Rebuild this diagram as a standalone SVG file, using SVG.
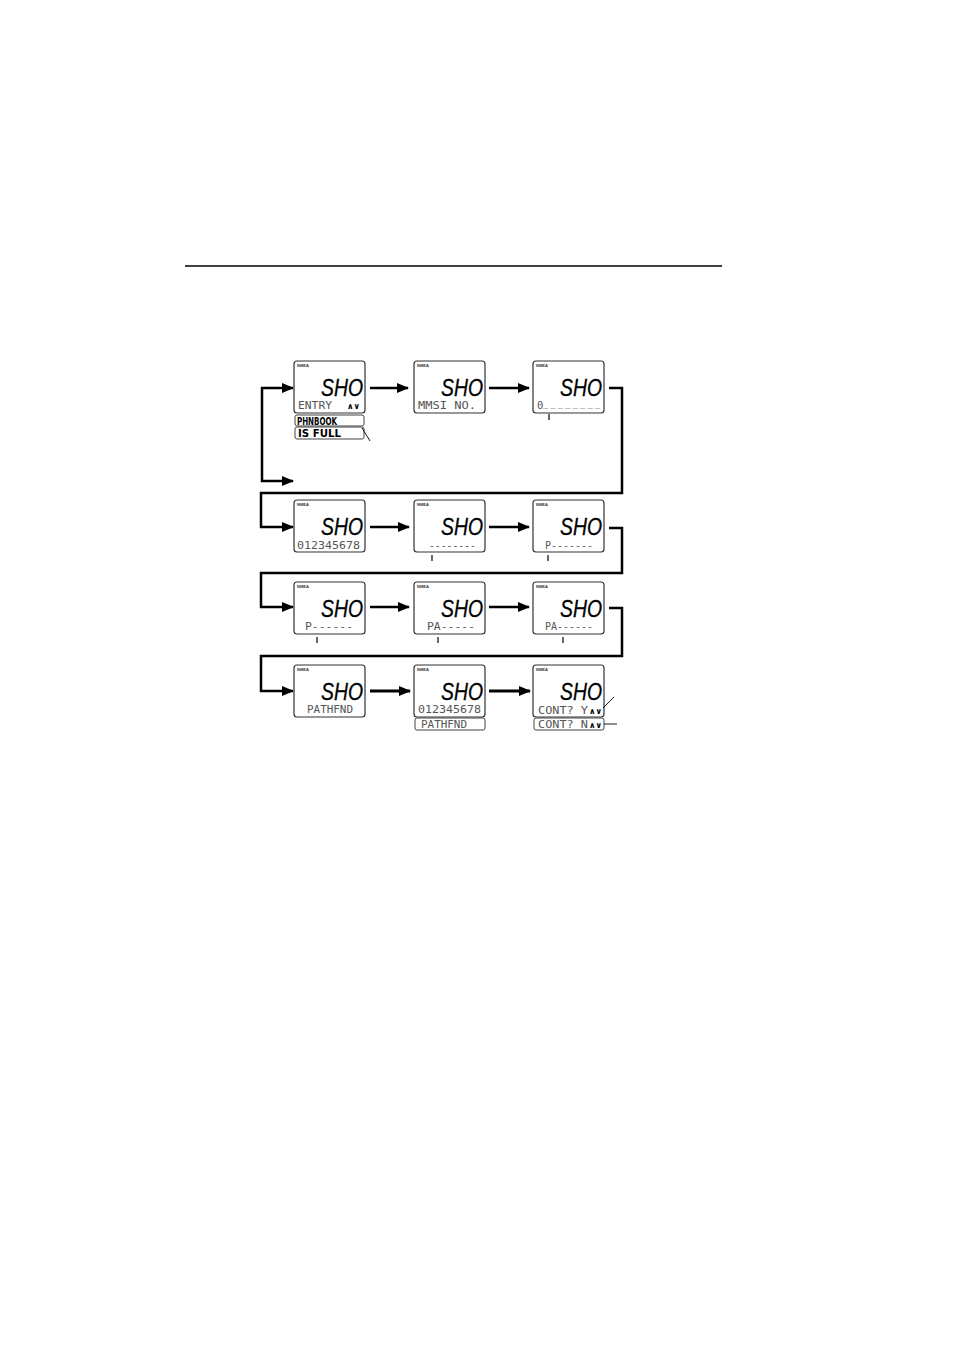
<svg xmlns="http://www.w3.org/2000/svg" width="954" height="1351" viewBox="0 0 954 1351">
<defs>
<style>
.lcd{fill:#fff;stroke:#333;stroke-width:1.2}
.strip{fill:#fff;stroke:#444;stroke-width:1}
.nmea{font-family:"Liberation Sans",sans-serif;font-size:4px;font-weight:bold;fill:#333}
.seg{font-family:"Liberation Sans",sans-serif;font-size:24px;font-style:italic;fill:#000;text-anchor:end;stroke:#000;stroke-width:0.3}
.t{font-family:"DejaVu Sans Mono",monospace;font-size:10.5px;fill:#555}
.b{font-family:"DejaVu Sans",sans-serif;font-size:11px;font-weight:bold;fill:#000}
.ic{font-family:"DejaVu Sans",sans-serif;font-size:8px;font-weight:bold;fill:#000}
.c{fill:none;stroke:#000;stroke-width:2.5}
.c3{fill:none;stroke:#000;stroke-width:3}
.tk{stroke:#000;stroke-width:1.2}
.thin{stroke:#000;stroke-width:0.9;fill:none}
</style>
<marker id="ah" markerUnits="userSpaceOnUse" markerWidth="12" markerHeight="10" refX="11" refY="5" orient="auto"><path d="M0,0 L12,5 L0,10 z" fill="#000"/></marker>
</defs>
<rect width="954" height="1351" fill="#fff"/>
<line x1="185" y1="266" x2="722" y2="266" stroke="#000" stroke-width="1.5"/>

<g id="connectors">
<line class="c" x1="370" y1="388" x2="408" y2="388" marker-end="url(#ah)"/>
<line class="c" x1="489" y1="388" x2="529" y2="388" marker-end="url(#ah)"/>
<path class="c" d="M262,434 V388 H293" marker-end="url(#ah)"/>
<path class="c" d="M262,434 V481 H293" marker-end="url(#ah)"/>
<polyline class="c" points="609,388 622,388 622,493 261,493 261,527 293,527" marker-end="url(#ah)"/>
<line class="c" x1="370" y1="527" x2="409" y2="527" marker-end="url(#ah)"/>
<line class="c" x1="489" y1="527" x2="529" y2="527" marker-end="url(#ah)"/>
<polyline class="c" points="609,528 622,528 622,573 261,573 261,607 293,607" marker-end="url(#ah)"/>
<line class="c" x1="370" y1="607" x2="409" y2="607" marker-end="url(#ah)"/>
<line class="c" x1="489" y1="607" x2="529" y2="607" marker-end="url(#ah)"/>
<polyline class="c" points="609,608 622,608 622,656 261,656 261,691 293,691" marker-end="url(#ah)"/>
<line class="c3" x1="370" y1="691" x2="410" y2="691" marker-end="url(#ah)"/>
<line class="c3" x1="489" y1="691" x2="530" y2="691" marker-end="url(#ah)"/>
</g>

<g id="n1">
<rect class="lcd" x="294" y="361" width="71" height="52" rx="3"/>
<text class="nmea" x="297" y="367">NMEA</text>
<text class="seg" x="363" y="396" textLength="42" lengthAdjust="spacingAndGlyphs">SHO</text>
<text class="t" x="298" y="409" textLength="34" lengthAdjust="spacingAndGlyphs">ENTRY</text>
<text class="ic" x="347" y="409">∧∨</text>
<rect class="strip" x="295" y="415" width="69" height="11" rx="2"/>
<text class="b" x="297" y="424.5" textLength="40" lengthAdjust="spacingAndGlyphs">PHNBOOK</text>
<rect class="strip" x="295" y="427" width="69" height="12" rx="2"/>
<text class="b" x="298" y="437" textLength="43" lengthAdjust="spacingAndGlyphs">IS  FULL</text>
<line class="thin" x1="362" y1="428" x2="370" y2="441"/>
</g>

<g id="n2">
<rect class="lcd" x="414" y="361" width="71" height="52" rx="3"/>
<text class="nmea" x="417" y="367">NMEA</text>
<text class="seg" x="483" y="396" textLength="42" lengthAdjust="spacingAndGlyphs">SHO</text>
<text class="t" x="418" y="409" textLength="58" lengthAdjust="spacingAndGlyphs">MMSI NO.</text>
</g>

<g id="n3">
<rect class="lcd" x="533" y="361" width="71" height="52" rx="3"/>
<text class="nmea" x="536" y="367">NMEA</text>
<text class="seg" x="602" y="396" textLength="42" lengthAdjust="spacingAndGlyphs">SHO</text>
<text class="t" x="537" y="409">0<tspan x="543" y="407" font-size="8.5" textLength="57" lengthAdjust="spacing">________</tspan></text>
<line class="tk" x1="549" y1="414" x2="549" y2="420"/>
</g>

<g id="n4">
<rect class="lcd" x="294" y="500" width="71" height="52" rx="3"/>
<text class="nmea" x="297" y="506">NMEA</text>
<text class="seg" x="363" y="535" textLength="42" lengthAdjust="spacingAndGlyphs">SHO</text>
<text class="t" x="297" y="549" textLength="63" lengthAdjust="spacingAndGlyphs">012345678</text>
</g>

<g id="n5">
<rect class="lcd" x="414" y="500" width="71" height="52" rx="3"/>
<text class="nmea" x="417" y="506">NMEA</text>
<text class="seg" x="483" y="535" textLength="42" lengthAdjust="spacingAndGlyphs">SHO</text>
<text class="t" x="429" y="549" textLength="47" lengthAdjust="spacingAndGlyphs">--------</text>
<line class="tk" x1="432" y1="555" x2="432" y2="561"/>
</g>

<g id="n6">
<rect class="lcd" x="533" y="500" width="71" height="52" rx="3"/>
<text class="nmea" x="536" y="506">NMEA</text>
<text class="seg" x="602" y="535" textLength="42" lengthAdjust="spacingAndGlyphs">SHO</text>
<text class="t" x="545" y="549" textLength="48" lengthAdjust="spacingAndGlyphs">P-------</text>
<line class="tk" x1="548" y1="555" x2="548" y2="561"/>
</g>

<g id="n7">
<rect class="lcd" x="294" y="582" width="71" height="52" rx="3"/>
<text class="nmea" x="297" y="588">NMEA</text>
<text class="seg" x="363" y="617" textLength="42" lengthAdjust="spacingAndGlyphs">SHO</text>
<text class="t" x="305" y="630" textLength="48" lengthAdjust="spacingAndGlyphs">P------</text>
<line class="tk" x1="317" y1="637" x2="317" y2="643"/>
</g>

<g id="n8">
<rect class="lcd" x="414" y="582" width="71" height="52" rx="3"/>
<text class="nmea" x="417" y="588">NMEA</text>
<text class="seg" x="483" y="617" textLength="42" lengthAdjust="spacingAndGlyphs">SHO</text>
<text class="t" x="427" y="630" textLength="48" lengthAdjust="spacingAndGlyphs">PA-----</text>
<line class="tk" x1="438" y1="637" x2="438" y2="643"/>
</g>

<g id="n9">
<rect class="lcd" x="533" y="582" width="71" height="52" rx="3"/>
<text class="nmea" x="536" y="588">NMEA</text>
<text class="seg" x="602" y="617" textLength="42" lengthAdjust="spacingAndGlyphs">SHO</text>
<text class="t" x="545" y="630" textLength="48" lengthAdjust="spacingAndGlyphs">PA------</text>
<line class="tk" x1="563" y1="637" x2="563" y2="643"/>
</g>

<g id="n10">
<rect class="lcd" x="294" y="665" width="71" height="52" rx="3"/>
<text class="nmea" x="297" y="671">NMEA</text>
<text class="seg" x="363" y="700" textLength="42" lengthAdjust="spacingAndGlyphs">SHO</text>
<text class="t" x="307" y="713" textLength="46" lengthAdjust="spacingAndGlyphs">PATHFND</text>
</g>

<g id="n11">
<rect class="lcd" x="414" y="665" width="71" height="52" rx="3"/>
<text class="nmea" x="417" y="671">NMEA</text>
<text class="seg" x="483" y="700" textLength="42" lengthAdjust="spacingAndGlyphs">SHO</text>
<text class="t" x="418" y="713" textLength="63" lengthAdjust="spacingAndGlyphs">012345678</text>
<rect class="strip" x="415" y="718" width="70" height="12" rx="2"/>
<text class="t" x="421" y="728" textLength="46" lengthAdjust="spacingAndGlyphs">PATHFND</text>
</g>

<g id="n12">
<rect class="lcd" x="533" y="665" width="71" height="52" rx="3"/>
<text class="nmea" x="536" y="671">NMEA</text>
<text class="seg" x="602" y="700" textLength="42" lengthAdjust="spacingAndGlyphs">SHO</text>
<text class="t" x="538" y="714" textLength="50" lengthAdjust="spacingAndGlyphs">CONT? Y</text>
<text class="ic" x="589" y="714">∧∨</text>
<line class="thin" x1="603" y1="708" x2="614" y2="697"/>
<rect class="strip" x="534" y="718" width="70" height="12" rx="2"/>
<text class="t" x="538" y="728" textLength="50" lengthAdjust="spacingAndGlyphs">CONT? N</text>
<text class="ic" x="589" y="728">∧∨</text>
<line class="thin" x1="604" y1="724" x2="617" y2="724"/>
</g>
</svg>
